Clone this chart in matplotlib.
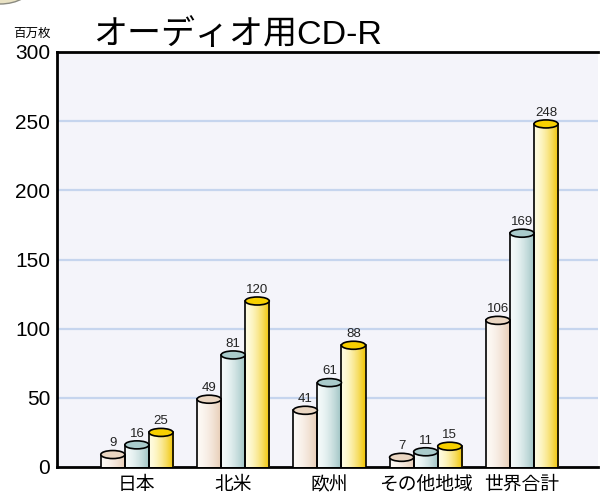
import numpy as np
import matplotlib
matplotlib.use('Agg')
import matplotlib.pyplot as plt
from matplotlib.patches import Ellipse
from matplotlib.colors import LinearSegmentedColormap

plt.rcParams['font.family'] = ['Liberation Sans', 'Noto Sans CJK JP']

# regions and three series (百万枚)
regions = ['日本', '北米', '欧州', 'その他地域', '世界合計']
series_a = [9, 49, 41, 7, 106]
series_b = [16, 81, 61, 11, 169]
series_c = [25, 120, 88, 15, 248]
yticks = [0, 50, 100, 150, 200, 250, 300]

# (light side, dark side, top cap) colours per series
styles = [('#fdf9f5', '#e6cbb3', '#ead6c2'),
          ('#f4fafa', '#9cc2c2', '#a9cbcb'),
          ('#fffce0', '#f0c400', '#f7d000')]

fig = plt.figure(figsize=(6.0, 4.97), dpi=100)
ax = fig.add_axes([57/600, 30/497, 541/600, 415/497])
ax.set_facecolor('#f4f4fa')

bw = 0.25
cap_h = 5.8
grad = np.linspace(0, 1, 64) ** 1.6

def cylinder(x, v, light, dark, cap):
    cmap = LinearSegmentedColormap.from_list('c', [light, dark])
    x0, x1 = x - bw / 2, x + bw / 2
    ax.imshow(grad[np.newaxis, :], cmap=cmap, aspect='auto',
              extent=(x0, x1, 0, v), zorder=3, interpolation='bicubic')
    ax.plot([x0, x0], [0, v], color='black', lw=1.2, zorder=4)
    ax.plot([x1, x1], [0, v], color='black', lw=1.2, zorder=4)
    ax.add_patch(Ellipse((x, v), bw, cap_h, facecolor=cap,
                         edgecolor='black', lw=1.2, zorder=5))

xs = np.arange(len(regions))
for k, vals in enumerate([series_a, series_b, series_c]):
    light, dark, cap = styles[k]
    for i, v in enumerate(vals):
        xc = xs[i] + (k - 1) * bw
        cylinder(xc, v, light, dark, cap)
        ax.text(xc, v + cap_h / 2 + 0.8, str(v), ha='center', va='bottom',
                fontsize=9.5, color='#222222', zorder=6)

ax.set_xlim(-0.83, 4.79)
ax.set_ylim(0, 300)
ax.set_yticks(yticks)
ax.set_xticks(xs)
ax.set_xticklabels(regions, fontsize=13.5)
ax.tick_params(axis='y', length=0, pad=5, labelsize=15)
ax.tick_params(axis='x', length=0, pad=7)
for y in yticks[1:-1]:
    ax.axhline(y, color='#c6d5ee', lw=1.6, zorder=1)

for s in ['top', 'left', 'bottom']:
    ax.spines[s].set_linewidth(2)
ax.spines['right'].set_visible(False)

fig.text(93/600, 1 - 35/497, 'オーディオ用CD-R', fontsize=24.5, va='center', ha='left')
fig.text(32/600, 1 - 34/497, '百万枚', fontsize=9, va='center', ha='center')

# ornament in the top-left corner
fig.patches.append(Ellipse((0, 1 + 15/497), 64/600, 38/497, transform=fig.transFigure,
                           facecolor='#e9e2c4', edgecolor='#8a8a80', lw=1, figure=fig))

fig.savefig('out.png', dpi=100)
